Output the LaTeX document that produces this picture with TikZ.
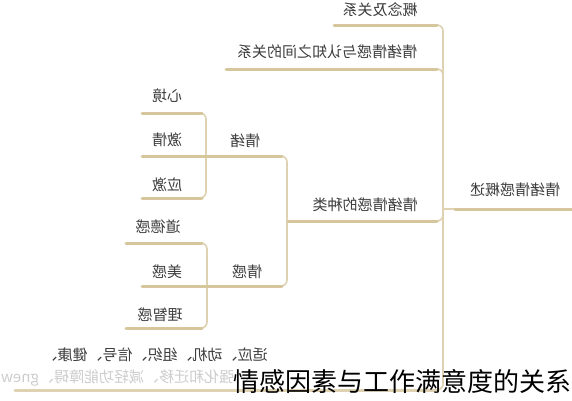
\documentclass[tikz,border=0pt]{standalone}
\usepackage{fontspec}
\usepackage{graphicx}
\newfontfamily\cjk{Noto Sans CJK SC}
\definecolor{linec}{RGB}{214,198,156}
\definecolor{linev}{RGB}{222,210,178}
\definecolor{txt}{RGB}{60,60,60}
\definecolor{faint}{RGB}{205,205,205}
\tikzset{
  mtext/.style={inner sep=0pt, text=txt, font=\cjk\fontsize{15}{15}\selectfont},
  uline/.style={draw=linec, line width=3pt, line cap=round},
  conn/.style={draw=linev, line width=1.6pt, rounded corners=6pt},
}
\newcommand{\mir}[1]{\scalebox{-1}[1]{#1}}
\begin{document}
\begin{tikzpicture}[x=1pt,y=-1pt]
\useasboundingbox[fill=white] (0,0) rectangle (572,400);
% text nodes (mirrored)
\node[mtext] (root) at (515,190) {\mir{情绪情感概述}};
\node[mtext] (gn) at (380,10) {\mir{概念及关系}};
\node[mtext] (rz) at (327,52) {\mir{情绪情感与认知之间的关系}};
\node[mtext] (zl) at (365,205) {\mir{情绪情感的种类}};
\node[mtext] (qx) at (245,141) {\mir{情绪}};
\node[mtext] (qg) at (247,272) {\mir{情感}};
\node[mtext] (xj) at (167,96) {\mir{心境}};
\node[mtext] (jq) at (167,140) {\mir{激情}};
\node[mtext] (yj) at (167,185) {\mir{应激}};
\node[mtext] (dd) at (158,227) {\mir{道德感}};
\node[mtext] (mg) at (167,272) {\mir{美感}};
\node[mtext] (lz) at (160,315) {\mir{理智感}};
\node[mtext] (gx) at (155,355) {\mir{适应、动机、组织、信号、健康、}};
\node[mtext, text=faint] (fa) at (125,378) {\mir{、强化和迁移、减轻功能障碍、gnew}};
% coordinates
\coordinate (rootJ) at (443,209);
\coordinate (rootR) at (572,209);
\coordinate (gnL) at (334,25);
\coordinate (rzL) at (226,69);
\coordinate (zlL) at (288,221);
\coordinate (gxL) at (15,390);
\coordinate (zlJ) at (287,221);
\coordinate (qxL) at (223,156);
\coordinate (qgL) at (223,286);
\coordinate (qxJ) at (206,156);
\coordinate (qgJ) at (207,286);
\coordinate (xjL) at (142,113);
\coordinate (jqL) at (142,156);
\coordinate (yjL) at (142,198);
\coordinate (ddL) at (126,243);
\coordinate (mgL) at (142,286);
\coordinate (lzL) at (126,328);
% trunk connectors
\path[conn] (gnL) -- (443,25) -- (rootJ);
\path[conn] (rzL) -- (443,69) -- (rootJ);
\path[conn] (zlL) -- (443,221) -- (rootJ);
\path[conn] (gxL) -- (443,390) -- (rootJ);
\path[conn] (rootJ) -- (rootR);
% second level
\path[conn] (qxL) -- (287,156) -- (zlJ);
\path[conn] (qgL) -- (287,286) -- (zlJ);
% third level
\path[conn] (xjL) -- (206,113) -- (qxJ);
\path[conn] (yjL) -- (206,198) -- (qxJ);
\path[conn] (ddL) -- (207,243) -- (qgJ);
\path[conn] (lzL) -- (207,328) -- (qgJ);
% underlines
\path[uline] (rootJ) ++(12,0) -- (rootR);
\path[uline] (gnL) -- (437,25);
\path[uline] (rzL) -- (437,69);
\path[uline] (zlL) -- (437,221);
\path[uline,draw=linev] (gxL) -- (437,390);
\path[uline] (qxL) -- (282,156);
\path[uline] (qgL) -- (282,286);
\path[uline] (xjL) -- (202,113);
\path[uline] (jqL) -- (qxL);
\path[uline] (yjL) -- (202,198);
\path[uline] (ddL) -- (202,243);
\path[uline] (mgL) -- (qgL);
\path[uline] (lzL) -- (202,328);
% caption
\node[inner sep=0pt, anchor=east, font=\cjk\fontsize{26}{26}\selectfont, text=black] (cap) at (572,381) {情感因素与工作满意度的关系};
\end{tikzpicture}
\end{document}
